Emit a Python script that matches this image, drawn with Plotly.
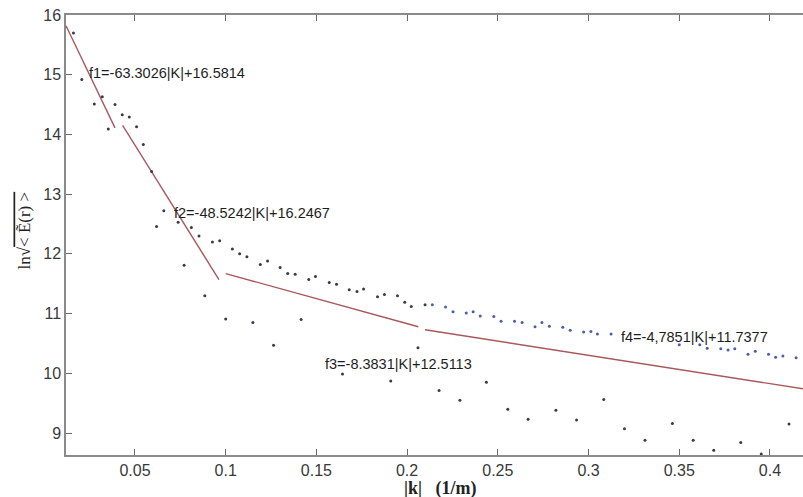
import plotly.graph_objects as go

# ---- data ----
k_dark = [0.0161, 0.0207, 0.0276, 0.0320, 0.0353, 0.0390, 0.0430, 0.0469, 0.0509, 0.0546,
          0.0592, 0.0619, 0.0659, 0.0738, 0.0771, 0.0811, 0.0853, 0.0885, 0.0927, 0.0967,
          0.1000, 0.1037, 0.1077, 0.1117, 0.1150, 0.1191, 0.1231, 0.1264, 0.1300, 0.1342,
          0.1383, 0.1416, 0.1458, 0.1495, 0.1571, 0.1611, 0.1644, 0.1681, 0.1724, 0.1760,
          0.1837, 0.1875, 0.1910, 0.1947, 0.1987, 0.2023, 0.2060, 0.2099,
          0.2176, 0.2291, 0.2437, 0.2555, 0.2667, 0.2820, 0.2934, 0.3084, 0.3198, 0.3311,
          0.3462, 0.3577, 0.3690, 0.3839, 0.3952, 0.4105]
e_dark = [15.70, 14.92, 14.51, 14.63, 14.09, 14.50, 14.33, 14.29, 14.13, 13.83,
          13.38, 12.46, 12.72, 12.53, 11.81, 12.44, 12.30, 11.30, 12.20, 12.22,
          10.91, 12.08, 12.00, 11.95, 10.85, 11.82, 11.88, 10.47, 11.77, 11.67,
          11.66, 10.90, 11.57, 11.62, 11.52, 11.49, 9.99, 11.40, 11.37, 11.41,
          11.28, 11.32, 9.87, 11.30, 11.19, 11.12, 10.43, 11.15,
          9.71, 9.55, 9.85, 9.40, 9.23, 9.38, 9.22, 9.56, 9.07, 8.88,
          9.16, 8.88, 8.71, 8.84, 8.65, 9.15]

k_blue = [0.2139, 0.2212, 0.2253, 0.2326, 0.2364, 0.2403, 0.2478, 0.2518, 0.2592, 0.2634,
          0.2705, 0.2743, 0.2784, 0.2858, 0.2899, 0.2973, 0.3013, 0.3049, 0.3124, 0.3500,
          0.3613, 0.3654, 0.3729, 0.3769, 0.3806, 0.3879, 0.3919, 0.3992, 0.4031, 0.4071,
          0.4144]
e_blue = [11.15, 11.11, 11.03, 11.01, 11.03, 10.96, 10.95, 10.87, 10.87, 10.85,
          10.78, 10.85, 10.79, 10.77, 10.72, 10.69, 10.70, 10.66, 10.66, 10.48,
          10.48, 10.42, 10.41, 10.39, 10.41, 10.32, 10.37, 10.32, 10.27, 10.29,
          10.26]

fit_k = [[0.0120, 0.0390], [0.0432, 0.0963], [0.1000, 0.2062], [0.2099, 0.4182]]
fit_e = [[15.82, 14.11], [14.15, 11.57], [11.67, 10.78], [10.73, 9.74]]
fit_labels = ["f1=-63.3026|K|+16.5814", "f2=-48.5242|K|+16.2467",
              "f3=-8.3831|K|+12.5113", "f4=-4,7851|K|+11.7377"]
label_k = [0.0236, 0.0704, 0.1537, 0.3169]
label_e = [15.03, 12.68, 10.155, 10.607]

x_ticks = [0.05, 0.1, 0.15, 0.2, 0.25, 0.3, 0.35, 0.4]
x_tick_text = ["0.05", "0.1", "0.15", "0.2", "0.25", "0.3", "0.35", "0.4"]
y_ticks = [9, 10, 11, 12, 13, 14, 15, 16]

fig = go.Figure()
for xs, ys in zip(fit_k, fit_e):
    fig.add_trace(go.Scatter(x=xs, y=ys, mode="lines",
                             line=dict(color="#a8585a", width=1.4),
                             showlegend=False, hoverinfo="skip"))
fig.add_trace(go.Scatter(x=k_dark, y=e_dark, mode="markers",
                         marker=dict(size=3, color="#3a3a48"), showlegend=False))
fig.add_trace(go.Scatter(x=k_blue, y=e_blue, mode="markers",
                         marker=dict(size=3, color="#4a5cae"), showlegend=False))

for t, xk, ye in zip(fit_labels, label_k, label_e):
    fig.add_annotation(x=xk, y=ye, text=t, showarrow=False, xanchor="left",
                       yanchor="middle",
                       font=dict(family="Liberation Sans, Arial", size=14.5, color="#1e1e1e"))

fig.add_annotation(xref="paper", yref="paper", x=0, y=0.5, xshift=-54, yshift=4,
                   text="ln√<span style='text-decoration:overline'>&lt; Ẽ(r) &gt;</span>",
                   textangle=-90, showarrow=False,
                   font=dict(family="Liberation Serif, DejaVu Serif, serif", size=17, color="#222"))
fig.add_annotation(xref="paper", yref="paper", x=0.5, y=0, xshift=5, yshift=-33,
                   yanchor="middle",
                   text="<b>|k|</b>   <b>(1/m)</b>", showarrow=False,
                   font=dict(family="Liberation Serif, DejaVu Serif, serif", size=18, color="#222"))

fig.update_xaxes(range=[0.0120, 0.4182], tickvals=x_ticks, ticktext=x_tick_text,
                 showgrid=False, zeroline=False, showline=True, linecolor="#8a8a8a",
                 linewidth=1.5, mirror="ticks", ticks="inside", ticklen=6,
                 tickcolor="#6a6a6a", tickwidth=1.2,
                 tickfont=dict(family="Liberation Sans, Arial", size=16, color="#383838"))
fig.update_yaxes(range=[8.632, 16.0], tickvals=y_ticks,
                 showgrid=False, zeroline=False, showline=True, linecolor="#8a8a8a",
                 linewidth=1.5, ticks="inside", ticklen=6,
                 tickcolor="#6a6a6a", tickwidth=1.2,
                 tickfont=dict(family="Liberation Sans, Arial", size=16, color="#383838"))

fig.update_layout(width=803, height=497, margin=dict(l=66, r=0, t=15, b=42),
                  plot_bgcolor="white", paper_bgcolor="white")
fig.write_html("out.html")
